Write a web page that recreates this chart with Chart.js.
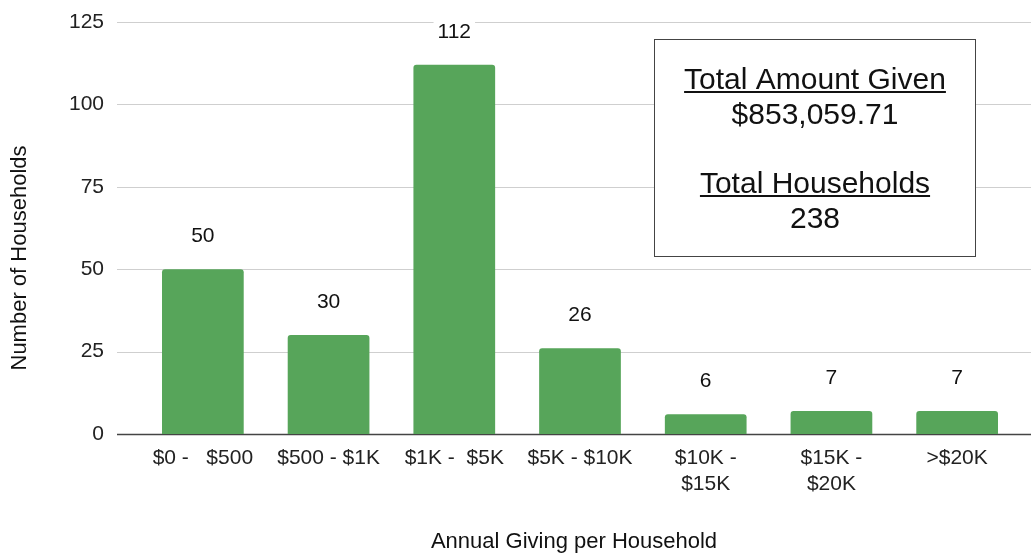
<!DOCTYPE html>
<html>
<head>
<meta charset="utf-8">
<script src="https://cdn.jsdelivr.net/npm/chart.js@4.4.1/dist/chart.umd.min.js"></script>
<style>
  html, body { margin: 0; padding: 0; background: #fff; }
  #wrap { width: 1031px; height: 554px; position: relative; }
</style>
</head>
<body>
<div id="wrap"><canvas id="chart"></canvas></div>
<script>
const categories = [
  "$0 -   $500",
  "$500 - $1K",
  "$1K -  $5K",
  "$5K - $10K",
  ["$10K -", "$15K"],
  ["$15K -", "$20K"],
  ">$20K",
];
const households = [50, 30, 112, 26, 6, 7, 7];
const yTicks = [0, 25, 50, 75, 100, 125];
const totalAmountGiven = "$853,059.71";
const totalHouseholds = "238";

const FONT = "'Liberation Sans', Arial, Helvetica, sans-serif";
const BAR_GREEN = "#57a55a";

// gridlines run past the category area, so draw them by hand
const gridPlugin = {
  id: "grid",
  beforeDatasetsDraw(chart) {
    const { ctx } = chart;
    const y = chart.scales.y;
    ctx.save();
    for (const v of yTicks) {
      const py = Math.round(y.getPixelForValue(v)) + 0.5;
      ctx.beginPath();
      ctx.moveTo(117, py);
      ctx.lineTo(1031, py);
      ctx.lineWidth = v === 0 ? 1.5 : 1;
      ctx.strokeStyle = v === 0 ? "#444" : "#cfcfcf";
      ctx.stroke();
    }
    ctx.restore();
  },
};

const labelsPlugin = {
  id: "valueLabels",
  afterDatasetsDraw(chart) {
    const { ctx } = chart;
    const meta = chart.getDatasetMeta(0);
    ctx.save();
    ctx.font = "21px " + FONT;
    ctx.textAlign = "center";
    ctx.textBaseline = "middle";
    meta.data.forEach((bar, i) => {
      const txt = String(households[i]);
      const cy = bar.y - 33;
      const w = ctx.measureText(txt).width + 8;
      ctx.fillStyle = "#fff";
      ctx.fillRect(bar.x - w / 2, cy - 12, w, 24);
      ctx.fillStyle = "#111";
      ctx.fillText(txt, bar.x, cy);
    });
    ctx.restore();
  },
};

function underlined(ctx, txt, x, y) {
  ctx.fillText(txt, x, y);
  const w = ctx.measureText(txt).width;
  ctx.fillRect(x - w / 2, y + 2, w, 2);
}

const overlayPlugin = {
  id: "overlay",
  afterDraw(chart) {
    const { ctx } = chart;
    ctx.save();
    // axis titles
    ctx.fillStyle = "#111";
    ctx.font = "22px " + FONT;
    ctx.textAlign = "center";
    ctx.textBaseline = "middle";
    ctx.fillText("Annual Giving per Household", (117 + 1031) / 2, 542);
    ctx.translate(20, 258);
    ctx.rotate(-Math.PI / 2);
    ctx.fillText("Number of Households", 0, 0);
    ctx.restore();

    // totals box
    ctx.save();
    ctx.fillStyle = "#fff";
    ctx.fillRect(654, 39, 322, 218);
    ctx.strokeStyle = "#444";
    ctx.lineWidth = 1;
    ctx.strokeRect(654.5, 39.5, 321, 217);
    ctx.fillStyle = "#111";
    ctx.font = "30px " + FONT;
    ctx.textAlign = "center";
    ctx.textBaseline = "alphabetic";
    const cx = 815;
    underlined(ctx, "Total Amount Given", cx, 89);
    ctx.fillText(totalAmountGiven, cx, 124);
    underlined(ctx, "Total Households", cx, 193);
    ctx.fillText(totalHouseholds, cx, 228);
    ctx.restore();
  },
};

new Chart(document.getElementById("chart").getContext("2d"), {
  type: "bar",
  data: {
    labels: categories,
    datasets: [
      {
        label: "Households",
        data: households,
        backgroundColor: BAR_GREEN,
        borderRadius: 3,
        barPercentage: 0.65,
        categoryPercentage: 1,
      },
    ],
  },
  options: {
    responsive: true,
    maintainAspectRatio: false,
    animation: false,
    layout: { padding: { top: 22, right: 11, left: 0, bottom: 0 } },
    plugins: {
      legend: { display: false },
      tooltip: { enabled: false },
    },
    scales: {
      x: {
        grid: { display: false, drawTicks: false },
        border: { display: false },
        ticks: {
          color: "#222",
          font: { family: FONT, size: 21 },
          padding: 12,
          maxRotation: 0,
          autoSkip: false,
        },
        afterFit(scale) { scale.height = 120; },
      },
      y: {
        min: 0,
        max: 125,
        grid: { display: false, drawTicks: false },
        border: { display: false },
        ticks: {
          stepSize: 25,
          color: "#222",
          font: { family: FONT, size: 21 },
          padding: 36,
        },
        afterFit(scale) {
          scale.width = 140;
          scale.paddingTop = 0;
          scale.paddingBottom = 0;
        },
      },
    },
  },
  plugins: [gridPlugin, labelsPlugin, overlayPlugin],
});
</script>
</body>
</html>
